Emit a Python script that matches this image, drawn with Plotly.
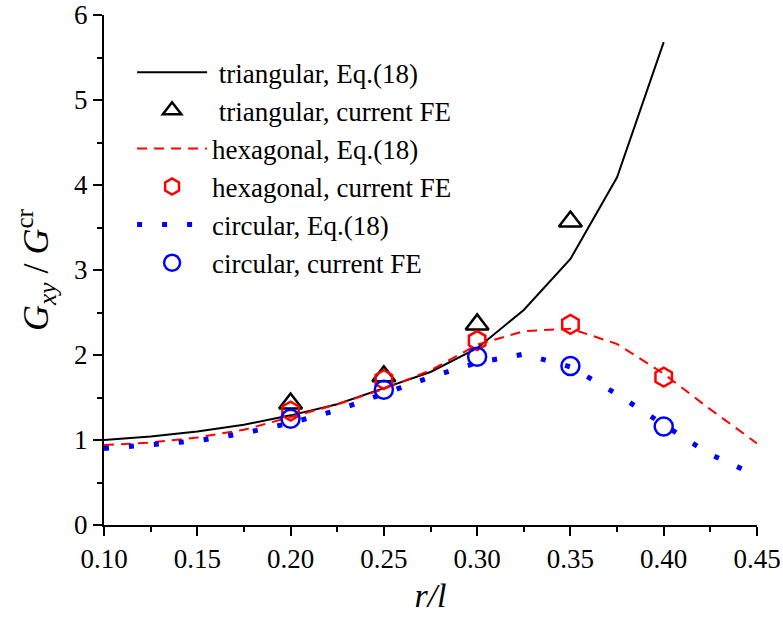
import plotly.graph_objects as go

# Data
x_eq = [0.10, 0.125, 0.15, 0.175, 0.20, 0.225, 0.25, 0.275, 0.30, 0.325, 0.35, 0.375, 0.40, 0.425, 0.45]
tri_eq = [1.00, 1.04, 1.10, 1.18, 1.29, 1.42, 1.61, 1.80, 2.08, 2.53, 3.13, 4.09, 5.68]
hex_eq = [0.94, 0.97, 1.03, 1.12, 1.27, 1.42, 1.60, 1.82, 2.12, 2.28, 2.31, 2.13, 1.78, 1.36, 0.96]
cir_eq = [0.90, 0.94, 0.99, 1.08, 1.20, 1.35, 1.54, 1.74, 1.91, 2.01, 1.86, 1.54, 1.18, 0.83, 0.58]

x_fe_tri = [0.20, 0.25, 0.30, 0.35]
tri_fe = [1.43, 1.75, 2.36, 3.57]
x_fe = [0.20, 0.25, 0.30, 0.35, 0.40]
hex_fe = [1.34, 1.71, 2.17, 2.36, 1.74]
cir_fe = [1.25, 1.59, 1.98, 1.87, 1.16]

FONT = "'Liberation Serif', 'DejaVu Serif', serif"

fig = go.Figure()
fig.add_trace(go.Scatter(x=x_eq[:len(tri_eq)], y=tri_eq, mode="lines",
                         line=dict(color="black", width=2),
                         name="\u00a0triangular, Eq.(18)"))
fig.add_trace(go.Scatter(x=x_fe_tri, y=tri_fe, mode="markers",
                         marker=dict(symbol="triangle-up-open", size=20, color="black",
                                     line=dict(width=2.5, color="black")),
                         name="\u00a0triangular, current FE"))
fig.add_trace(go.Scatter(x=x_eq, y=hex_eq, mode="lines",
                         line=dict(color="red", width=2, dash="10px,7px"),
                         name="hexagonal, Eq.(18)"))
fig.add_trace(go.Scatter(x=x_fe, y=hex_fe, mode="markers",
                         marker=dict(symbol="hexagon-open", size=19, color="red",
                                     line=dict(width=2.5, color="red")),
                         name="hexagonal, current FE"))
fig.add_trace(go.Scatter(x=x_eq, y=cir_eq, mode="lines",
                         line=dict(color="blue", width=5, dash="5px,20px"),
                         name="circular, Eq.(18)"))
fig.add_trace(go.Scatter(x=x_fe, y=cir_fe, mode="markers",
                         marker=dict(symbol="circle-open", size=18, color="blue",
                                     line=dict(width=2.5, color="blue")),
                         name="circular, current FE"))

axis_common = dict(showline=True, linewidth=2, linecolor="black", ticks="outside",
                   ticklen=9, tickwidth=2, tickcolor="black", showgrid=False, zeroline=False,
                   tickfont=dict(family=FONT, size=27, color="black"), mirror=False,
                   automargin=False)

fig.update_xaxes(range=[0.10, 0.45], dtick=0.05, tickformat=".2f",
                 minor=dict(ticks="outside", ticklen=5, tickwidth=1.5, tickcolor="black", dtick=0.025),
                 title=dict(text="<i>r/l</i>", font=dict(family=FONT, size=34, color="black"), standoff=10),
                 **axis_common)
fig.update_yaxes(range=[0, 6], dtick=1,
                 minor=dict(ticks="outside", ticklen=5, tickwidth=1.5, tickcolor="black", dtick=0.5),
                 title=dict(text="<i>G</i><sub><i>xy</i></sub> / <i>G</i><sup>cr</sup>",
                            font=dict(family=FONT, size=36, color="black"), standoff=14),
                 **axis_common)

fig.update_layout(
    width=783, height=617,
    margin=dict(l=104, r=26, t=15, b=92),
    plot_bgcolor="white", paper_bgcolor="white",
    font=dict(family=FONT),
    showlegend=True,
    legend=dict(x=0.043, y=0.935, xanchor="left", yanchor="top",
                bgcolor="rgba(0,0,0,0)", borderwidth=0,
                font=dict(family=FONT, size=27, color="black"),
                itemwidth=70, tracegroupgap=0),
)

fig.write_html("out.html")
